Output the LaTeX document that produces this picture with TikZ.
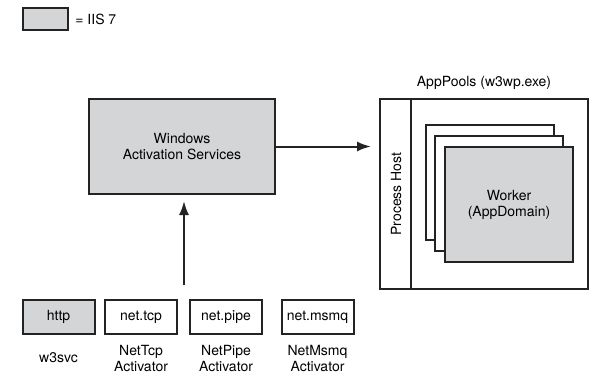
\documentclass[tikz,border=0pt]{standalone}
\usepackage{fontspec}
\setmainfont{TeX Gyre Heros}
\usetikzlibrary{arrows.meta}
\definecolor{iisgray}{RGB}{212,213,215}
\definecolor{edge}{RGB}{35,35,35}
\tikzset{>={Latex[length=7pt,width=5pt]}}
\tikzset{
  box/.style={draw=edge, line width=1pt, fill=white, inner sep=0pt, align=center, font=\fontsize{7}{8}\selectfont},
  iis/.style={box, fill=iisgray},
  caption/.style={align=center, inner sep=0pt, font=\fontsize{7}{8}\selectfont},
  feeder/.style={box, minimum width=36pt, minimum height=17pt}
}

\begin{document}
\begin{tikzpicture}[x=0.5pt,y=-0.5pt]
    \useasboundingbox (0,0) rectangle (603,385);
    % legend
    \node[iis, minimum width=22.5pt, minimum height=11pt] (key) at (45.5,19) {};
    \node[caption, anchor=west] (keytext) at (75,19) {= IIS 7};

    % activation service
    \node[iis, minimum width=93pt, minimum height=47.5pt] (was) at (182,146.5) {Windows\\Activation Services};

    % worker process with its host strip
    \node[box, minimum width=104pt, minimum height=95pt] (pool) at (484,194) {};
    \node[caption] (pooltext) at (484,83) {AppPools (w3wp.exe)};
    \draw[edge, line width=1pt] ([xshift=16pt]pool.north west) -- ([xshift=16pt]pool.south west);
    \node[caption, rotate=90] (host) at (396,194) {Process Host};

    % stacked app domains
    \node[box, minimum width=64pt, minimum height=57.5pt] (domainc) at (489.5,182.5) {};
    \node[box, minimum width=64pt, minimum height=57.5pt] (domainb) at (499,193) {};
    \node[iis, minimum width=64pt, minimum height=57.5pt] (worker) at (509,204.5) {Worker\\(AppDomain)};

    % listeners
    \node[feeder, fill=iisgray] (http) at (58.5,317) {http};
    \node[feeder] (tcp) at (141,317) {net.tcp};
    \node[feeder] (pipe) at (226,317) {net.pipe};
    \node[feeder] (msmq) at (317.5,317) {net.msmq};
    \node[caption] (w3svc) at (58.5,358) {w3svc};
    \node[caption] (tcpact) at (141,358) {NetTcp\\Activator};
    \node[caption] (pipeact) at (226,358) {NetPipe\\Activator};
    \node[caption] (msmqact) at (317.5,358) {NetMsmq\\Activator};

    % arrows
    \coordinate (feed) at (184,285);
    \draw[->, edge, line width=1pt, shorten >=3pt] (feed) -- (feed |- was.south);
    \draw[->, edge, line width=1pt, shorten >=4pt] (was.east) -- (was.east -| pool.west);
\end{tikzpicture}
\end{document}
